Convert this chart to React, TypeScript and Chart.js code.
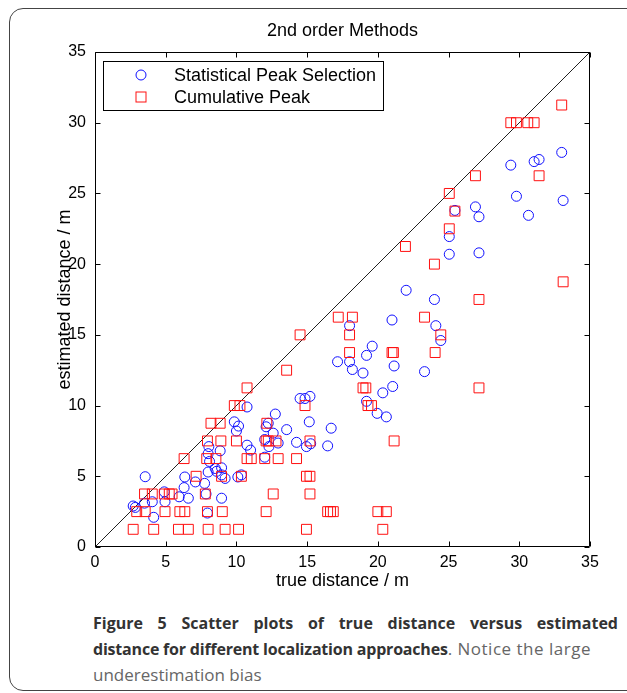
import React, { useEffect, useRef } from "react";
import { Chart, registerables } from "chart.js";

Chart.register(...registerables);

const chartTitle = "2nd order Methods";
const seriesNames = ["Statistical Peak Selection", "Cumulative Peak"];
const xAxisTitle = "true distance / m";
const yAxisTitle = "estimated distance / m";
const axisMin = 0;
const axisMax = 35;
const tickStep = 5;

// Statistical Peak Selection (blue circles)
const spsX = [
  2.7, 2.85, 3.5, 3.55, 4.05, 4.15, 4.9, 4.95, 5.95, 6.3, 6.35, 6.6, 7.1, 7.75, 7.85, 7.95, 8.95,
  8.0, 8.6, 8.5, 8.95, 8.95, 9.2, 10.35, 10.1, 8.1, 8.0, 8.05, 8.85, 9.85, 10.15, 10.0, 10.75,
  10.75, 11.0, 12.0, 12.1, 12.25, 12.6, 12.75, 13.55, 12.95, 12.3, 12.0, 14.25, 14.95, 15.25,
  15.15, 16.45, 16.7, 14.5, 14.85, 15.2, 19.2, 19.95, 20.6, 20.35, 21.05, 17.15, 18.0, 18.2,
  18.95, 19.2, 19.6, 18.0, 21.0, 21.15, 23.3, 22.0, 24.0, 24.1, 24.45, 25.05, 27.15, 25.05,
  25.45, 26.9, 27.15, 29.8, 30.65, 33.1, 29.4, 31.05, 31.4, 33.0,
];
const spsY = [
  2.9, 2.8, 3.1, 4.97, 3.2, 2.1, 3.9, 3.2, 3.55, 4.2, 4.95, 3.45, 4.6, 4.5, 3.75, 2.4, 3.45,
  5.3, 5.35, 5.55, 5.6, 5.1, 4.85, 5.1, 4.95, 6.05, 6.6, 7.1, 6.8, 8.85, 8.55, 8.2, 9.9,
  7.2, 6.85, 7.6, 8.5, 8.75, 8.05, 9.4, 8.3, 7.35, 7.1, 6.35, 7.4, 7.1, 7.3,
  8.85, 7.15, 8.4, 10.5, 10.5, 10.65, 10.3, 9.45, 9.2, 10.9, 11.35, 13.1, 13.1, 12.55,
  12.3, 13.55, 14.2, 15.65, 16.05, 12.8, 12.4, 18.15, 17.5, 15.65, 14.6, 20.7, 20.8, 21.95,
  23.8, 24.05, 23.35, 24.8, 23.45, 24.5, 27.0, 27.25, 27.4, 27.9,
];

// Cumulative Peak (red squares)
const cpX = [
  2.7, 4.15, 5.9, 6.6, 8.0, 9.2, 10.15, 14.95, 20.35,
  2.95, 3.55, 4.95, 6.0, 6.35, 7.95, 9.0, 12.1, 16.45, 16.65, 16.85, 20.0, 20.6,
  3.5, 4.05, 4.9, 5.25, 5.45, 7.8, 12.6, 15.2,
  7.15, 8.95, 10.35, 14.95, 15.2,
  6.3, 7.9, 8.55, 10.75, 11.05, 12.0, 12.95, 14.25,
  7.95, 8.9, 10.0, 12.1, 12.25, 12.8, 15.2, 21.15,
  8.2, 8.85, 12.15,
  9.85, 10.25, 14.85, 19.3, 19.55,
  10.75, 18.95, 19.15, 27.15,
  13.55,
  18.0, 21.0, 21.1, 24.05,
  14.5, 18.0, 24.45,
  17.2, 18.2, 23.3,
  27.15, 33.1, 24.0, 21.95, 25.05, 25.45, 25.05,
  26.9, 31.4,
  29.4, 29.8, 30.6, 31.05,
  33.0,
];
const cpY = [
  1.25, 1.25, 1.25, 1.25, 1.25, 1.25, 1.25, 1.25, 1.25,
  2.5, 2.5, 2.5, 2.5, 2.5, 2.5, 2.5, 2.5, 2.5, 2.5, 2.5, 2.5, 2.5,
  3.75, 3.75, 3.75, 3.75, 3.75, 3.75, 3.75, 3.75,
  5.0, 5.0, 5.0, 5.0, 5.0,
  6.25, 6.25, 6.25, 6.25, 6.25, 6.25, 6.25, 6.25,
  7.5, 7.5, 7.5, 7.5, 7.5, 7.5, 7.5, 7.5,
  8.75, 8.75, 8.75,
  10.0, 10.0, 10.0, 10.0, 10.0,
  11.25, 11.25, 11.25, 11.25,
  12.5,
  13.75, 13.75, 13.75, 13.75,
  15.0, 15.0, 15.0,
  16.25, 16.25, 16.25,
  17.5, 18.75, 20.0, 21.25, 22.5, 23.75, 25.0,
  26.25, 26.25,
  30.0, 30.0, 30.0, 30.0,
  31.25,
];

// reference line y = x
const diagX = [0, 35];
const diagY = [0, 35];

const BLUE = "#1010ff";
const RED = "#ff1010";
const FONT = "'Liberation Sans', Arial, Helvetica, sans-serif";

const toPoints = (xs: number[], ys: number[]) => xs.map((x, i) => ({ x, y: ys[i] }));

const framePlugin = {
  id: "matlabFrame",
  afterDatasetsDraw(chart: any) {
    const { ctx, chartArea: a, scales } = chart;
    ctx.save();
    ctx.strokeStyle = "#000";
    ctx.lineWidth = 1;
    const L = Math.round(a.left) + 0.5;
    const R = Math.round(a.right) - 0.5;
    const T = Math.round(a.top) + 0.5;
    const B = Math.round(a.bottom) - 0.5;
    ctx.beginPath();
    ctx.rect(L, T, R - L, B - T);
    const tl = 5;
    for (const t of scales.x.ticks) {
      const px = Math.round(scales.x.getPixelForValue(t.value)) + 0.5;
      ctx.moveTo(px, B);
      ctx.lineTo(px, B - tl);
      ctx.moveTo(px, T);
      ctx.lineTo(px, T + tl);
    }
    for (const t of scales.y.ticks) {
      const py = Math.round(scales.y.getPixelForValue(t.value)) + 0.5;
      ctx.moveTo(L, py);
      ctx.lineTo(L + tl, py);
      ctx.moveTo(R, py);
      ctx.lineTo(R - tl, py);
    }
    ctx.stroke();

    // legend box
    const bx = Math.round(a.left) + 8.5;
    const by = Math.round(a.top) + 9.5;
    const bw = 280;
    const bh = 49;
    ctx.fillStyle = "#fff";
    ctx.fillRect(bx, by, bw, bh);
    ctx.strokeRect(bx, by, bw, bh);
    const mx = a.left + 46;
    const y1 = a.top + 23;
    const y2 = a.top + 45;
    ctx.lineWidth = 1;
    ctx.strokeStyle = BLUE;
    ctx.beginPath();
    ctx.arc(mx, y1, 5, 0, Math.PI * 2);
    ctx.stroke();
    ctx.strokeStyle = RED;
    ctx.strokeRect(mx - 5, y2 - 5, 10, 10);
    ctx.fillStyle = "#000";
    ctx.font = `18px ${FONT}`;
    ctx.textBaseline = "middle";
    ctx.textAlign = "left";
    ctx.fillText(seriesNames[0], a.left + 79, y1 + 1);
    ctx.fillText(seriesNames[1], a.left + 79, y2 + 1);
    ctx.restore();
  },
};

export default function App() {
  const ref = useRef<HTMLCanvasElement | null>(null);

  useEffect(() => {
    if (!ref.current) return;
    const chart = new Chart(ref.current, {
      type: "scatter",
      data: {
        datasets: [
          {
            label: "y = x",
            data: toPoints(diagX, diagY),
            showLine: true,
            borderColor: "#222",
            borderWidth: 1,
            pointRadius: 0,
            order: 3,
          } as any,
          {
            label: seriesNames[0],
            data: toPoints(spsX, spsY),
            pointStyle: "circle",
            pointRadius: 5,
            pointBorderWidth: 1,
            borderColor: BLUE,
            backgroundColor: "rgba(0,0,0,0)",
            order: 2,
          },
          {
            label: seriesNames[1],
            data: toPoints(cpX, cpY),
            pointStyle: "rect",
            pointRadius: 7,
            pointBorderWidth: 1,
            borderColor: RED,
            backgroundColor: "rgba(0,0,0,0)",
            order: 1,
          },
        ],
      },
      options: {
        animation: false,
        responsive: false,
        devicePixelRatio: 1,
        events: [],
        layout: { padding: { left: 0, right: 37, top: 0, bottom: 0 } },
        plugins: {
          legend: { display: false },
          tooltip: { enabled: false },
          title: {
            display: true,
            fullSize: false,
            text: chartTitle,
            color: "#000",
            font: { family: FONT, size: 18, weight: "normal" },
            padding: { top: 20, bottom: 10.4 },
          },
        },
        scales: {
          x: {
            type: "linear",
            min: axisMin,
            max: axisMax,
            grid: { display: false, drawTicks: false },
            border: { display: false },
            ticks: {
              stepSize: tickStep,
              color: "#000",
              padding: 6,
              font: { family: FONT, size: 16 },
              maxRotation: 0,
            },
            title: {
              display: true,
              text: xAxisTitle,
              color: "#000",
              font: { family: FONT, size: 18 },
              padding: { top: 0, bottom: 8 },
            },
            afterFit: (s: any) => {
              s.height = 53;
            },
          },
          y: {
            type: "linear",
            min: axisMin,
            max: axisMax,
            grid: { display: false, drawTicks: false },
            border: { display: false },
            ticks: {
              stepSize: tickStep,
              color: "#000",
              padding: 9,
              font: { family: FONT, size: 16 },
            },
            title: {
              display: true,
              text: yAxisTitle,
              color: "#000",
              font: { family: FONT, size: 18 },
              padding: { top: 54, bottom: 0 },
            },
            afterFit: (s: any) => {
              s.width = 95;
            },
          },
        },
      },
      plugins: [framePlugin],
    });
    return () => chart.destroy();
  }, []);

  return (
    <div
      style={{
        position: "fixed",
        left: 0,
        top: 0,
        width: 627,
        height: 693,
        overflow: "hidden",
        background: "#fff",
      }}
    >
      <div
        style={{
          position: "absolute",
          left: 9,
          top: 8,
          width: 660,
          height: 683,
          border: "1.5px solid #444",
          borderRadius: 14,
          boxSizing: "border-box",
        }}
      />
      <canvas
        ref={ref}
        width={627}
        height={600}
        style={{ position: "absolute", left: 0, top: 0, width: 627, height: 600 }}
      />
      <div
        style={{
          position: "absolute",
          left: 93,
          top: 610,
          width: 525,
          fontFamily: "'Open Sans', sans-serif",
          fontSize: 17,
          lineHeight: "26px",
          color: "#666",
        }}
      >
        <div
          style={{
            fontWeight: 700,
            fontSize: 16,
            color: "#333",
            textAlign: "justify",
            textAlignLast: "justify",
            whiteSpace: "nowrap",
          }}
        >
          Figure 5 Scatter plots of true distance versus estimated
        </div>
        <div style={{ whiteSpace: "nowrap" }}>
          <span style={{ fontWeight: 700, fontSize: 16, letterSpacing: -0.2, color: "#333" }}>
            distance for different localization approaches
          </span>
          <span style={{ letterSpacing: 0.5 }}>. Notice the large</span>
        </div>
        <div style={{ whiteSpace: "nowrap" }}>underestimation bias</div>
      </div>
    </div>
  );
}
